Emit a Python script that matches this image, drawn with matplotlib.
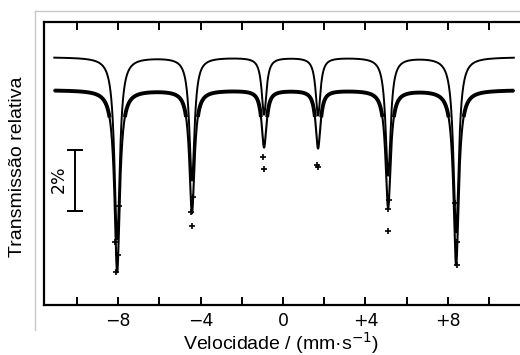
import numpy as np
import matplotlib
matplotlib.use("Agg")
import matplotlib.pyplot as plt
from matplotlib.lines import Line2D

# ---- data ----
# sextet line positions (mm/s), depths (%), half widths (mm/s)
peak_pos = [-8.05, -4.42, -0.92, 1.70, 5.10, 8.40]
peak_depth = [5.97, 4.03, 1.87, 1.90, 3.87, 5.74]
peak_hwhm = [0.155, 0.15, 0.14, 0.14, 0.15, 0.155]
baseline = 100.0
fit_offset = 1.08            # upper trace shifted up (%)
v_range = [-11.1, 11.2]      # measured velocity range

# individual data points visible below the band (velocity, transmission %)
pts_v = [-8.10, -8.14, -7.98, -8.02, -4.42, -4.45, -4.38, -0.97, -0.92,
         1.70, 1.66, 5.10, 5.07, 5.13, 8.45, 8.42, 8.36]
pts_t = [94.03, 95.00, 96.20, 94.60, 95.54, 96.00, 96.50, 97.80, 97.40,
         97.48, 97.55, 95.38, 96.10, 96.40, 94.25, 95.00, 96.30]

xticks_major = [-8, -4, 0, 4, 8]
xtick_labels = ["\u22128", "\u22124", "0", "+4", "+8"]
xticks_minor = [-10, -6, -2, 2, 6, 10]
scale_bar = [96.03, 98.03]   # 2 % bar


def spectrum(v):
    t = np.full_like(v, baseline)
    for p, d, g in zip(peak_pos, peak_depth, peak_hwhm):
        t -= d * g**2 / ((v - p)**2 + g**2)
    return t


v = np.linspace(v_range[0], v_range[1], 6000)
fit = spectrum(v)
band = np.where(baseline - fit < 0.9, fit, np.nan)

fig = plt.figure(figsize=(5.2, 3.55), dpi=100)
ax = fig.add_axes([44/520, 50/355, 476/520, 283/355])

# upper fitted trace
ax.plot(v, fit + fit_offset, color="black", lw=1.4, zorder=3)
# measured data band
ax.plot(v, band, color="black", lw=2.8, zorder=2, solid_capstyle="butt")
# fit through data
ax.plot(v, fit, color="black", lw=1.5, zorder=3)
# individual points
ax.plot(pts_v, pts_t, ls="none", marker="+", ms=4, mew=1.2, color="black", zorder=4)

ax.set_xlim(-11.6, 11.5)
ax.set_ylim(92.95, 102.23)

# scale bar 2%
xb = -10.1
ax.plot([xb, xb], scale_bar, color="black", lw=1.4)
for yb in scale_bar:
    ax.plot([xb - 0.34, xb + 0.34], [yb, yb], color="black", lw=1.4)
ax.text(-10.9, sum(scale_bar)/2 + 0.05, "2%", rotation=90, ha="center", va="center",
        fontsize=12.5, family="DejaVu Sans")

ax.set_xticks(xticks_major)
ax.set_xticklabels(xtick_labels)
ax.set_xticks(xticks_minor, minor=True)
ax.set_yticks([])
ax.tick_params(axis="x", which="both", direction="in", length=6, width=1.4,
               top=True, bottom=True, labelsize=12.5, pad=5)
for t in ax.get_xticklabels():
    t.set_family("DejaVu Sans")
for s in ["left", "bottom", "top"]:
    ax.spines[s].set_linewidth(1.6)
ax.spines["right"].set_visible(False)

fig.text(281/520, 1 - 343/355, "Velocidade / (mm\u00b7s$^{-1}$)", ha="center",
         va="center", fontsize=14, family="Liberation Sans")
fig.text(18/520, 1 - 167/355, "Transmissão relativa", rotation=90, ha="center",
         va="center", fontsize=14, family="Liberation Sans")

# light grey frame
grey = "#c8c8c8"
fig.add_artist(Line2D([35/520, 35/520], [1 - 11/355, 1 - 330/355], color=grey, lw=1.0,
                      transform=fig.transFigure))
fig.add_artist(Line2D([35/520, 1.0], [1 - 11/355, 1 - 11/355], color=grey, lw=1.0,
                      transform=fig.transFigure))

fig.savefig("out.png", dpi=100, facecolor="white")
